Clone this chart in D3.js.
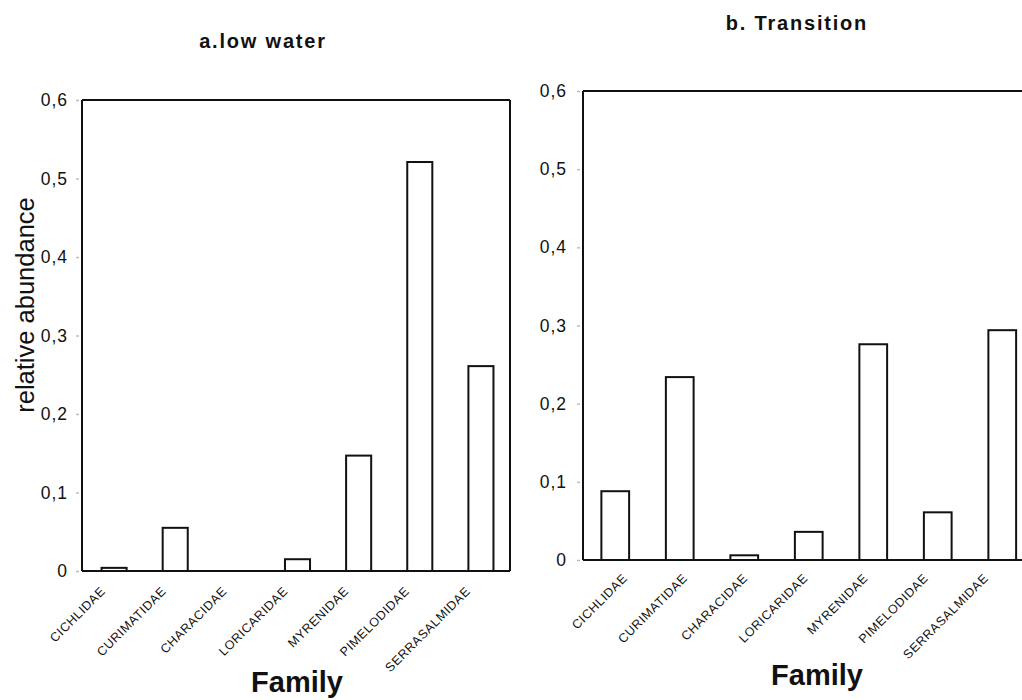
<!DOCTYPE html>
<html>
<head>
<meta charset="utf-8">
<script src="https://cdn.jsdelivr.net/npm/d3@7"></script>
<style>
  html, body { margin: 0; padding: 0; background: #fff; }
  svg { display: block; font-family: "Liberation Sans", Arial, sans-serif; }
</style>
</head>
<body>
<svg id="chart" width="1022" height="700"></svg>
<script>
// Fish families sampled
const categories = ["CICHLIDAE", "CURIMATIDAE", "CHARACIDAE", "LORICARIDAE", "MYRENIDAE", "PIMELODIDAE", "SERRASALMIDAE"];

// Relative abundance per family, low-water period
const lowWater = [0.004, 0.055, 0, 0.015, 0.147, 0.521, 0.261];

// Relative abundance per family, transition period
const transition = [0.088, 0.234, 0.006, 0.036, 0.276, 0.061, 0.294];

// Y axis ticks and their printed labels (decimal comma)
const yTicks = [0, 0.1, 0.2, 0.3, 0.4, 0.5, 0.6];
const yTickLabels = ["0", "0,1", "0,2", "0,3", "0,4", "0,5", "0,6"];

const panelTitles = ["a.low water", "b. Transition"];
const xTitle = "Family";
const yTitle = "relative abundance";

const svg = d3.select("#chart");
svg.append("rect").attr("width", 1022).attr("height", 700).attr("fill", "#fff");

function drawPanel(values, cfg) {
  const g = svg.append("g");

  const x = d3.scaleBand().domain(categories).range([cfg.left, cfg.right]).padding(0);
  const y = d3.scaleLinear().domain([0, 0.6]).range([cfg.bottom, cfg.top]);
  // label anchor positions along the baseline
  const xl = d3.scalePoint().domain(categories).range(cfg.labelRange);

  const barW = x.bandwidth() * cfg.barFrac;

  // bars
  g.selectAll("rect.bar")
    .data(values.map((v, i) => ({ cat: categories[i], v })))
    .join("rect")
    .attr("class", "bar")
    .attr("x", d => x(d.cat) + x.bandwidth() / 2 - barW / 2 + cfg.barShift)
    .attr("y", d => y(d.v))
    .attr("width", barW)
    .attr("height", d => y(0) - y(d.v))
    .attr("fill", "#fff")
    .attr("stroke", "#111")
    .attr("stroke-width", 2);

  // y axis labels and faint tick marks
  const yAxis = d3.axisLeft(y)
    .tickValues(yTicks)
    .tickFormat((d, i) => yTickLabels[i])
    .tickSize(6)
    .tickPadding(cfg.tickPad);
  const ya = g.append("g").attr("transform", `translate(${cfg.left},0)`).call(yAxis);
  ya.select(".domain").remove();
  ya.selectAll(".tick line").attr("x1", -3).attr("stroke", "#bbb").attr("stroke-width", 1.5);
  ya.selectAll(".tick text")
    .attr("font-size", 17.5)
    .attr("letter-spacing", 1)
    .attr("fill", "#111")
    .attr("font-family", "'Liberation Sans', Arial, sans-serif");

  // frame: left axis, top, baseline, optional right side
  const frame = g.append("g").attr("stroke", "#111").attr("stroke-width", 2).attr("fill", "none");
  frame.append("line").attr("x1", cfg.left).attr("x2", cfg.left).attr("y1", cfg.top).attr("y2", cfg.bottom);
  frame.append("line").attr("x1", cfg.left).attr("x2", cfg.right).attr("y1", cfg.top).attr("y2", cfg.top);
  frame.append("line").attr("x1", cfg.left).attr("x2", cfg.right).attr("y1", cfg.bottom).attr("y2", cfg.bottom);
  if (cfg.rightBorder) {
    frame.append("line").attr("x1", cfg.right).attr("x2", cfg.right).attr("y1", cfg.top).attr("y2", cfg.bottom);
  }

  // rotated family names
  g.selectAll("text.cat")
    .data(categories)
    .join("text")
    .attr("class", "cat")
    .attr("transform", d => `translate(${xl(d)},${cfg.bottom + cfg.labelDy}) rotate(-45)`)
    .attr("text-anchor", "end")
    .attr("font-size", 12.5)
    .attr("letter-spacing", 0.6)
    .attr("fill", "#111")
    .text(d => d);

  // panel title
  g.append("text")
    .attr("x", cfg.titleX).attr("y", cfg.titleY)
    .attr("text-anchor", "middle")
    .attr("font-size", 20).attr("font-weight", "bold")
    .attr("letter-spacing", 1.8)
    .attr("fill", "#111")
    .text(cfg.title);

  // x axis title
  g.append("text")
    .attr("x", cfg.familyX).attr("y", cfg.familyY)
    .attr("text-anchor", "middle")
    .attr("font-size", 29).attr("font-weight", "bold")
    .attr("fill", "#111")
    .text(xTitle);
}

drawPanel(lowWater, {
  left: 82, right: 510, top: 100, bottom: 571,
  barFrac: 0.41, barShift: 1.5,
  tickPad: 8,
  labelRange: [106, 471], labelDy: 21,
  rightBorder: true,
  title: panelTitles[0], titleX: 263, titleY: 48,
  familyX: 297, familyY: 692
});

drawPanel(transition, {
  left: 583, right: 1034.5, top: 91, bottom: 560,
  barFrac: 0.43, barShift: 0,
  tickPad: 10,
  labelRange: [628, 989], labelDy: 19,
  rightBorder: false,
  title: panelTitles[1], titleX: 797, titleY: 30,
  familyX: 817, familyY: 685
});

// shared y axis title
svg.append("text")
  .attr("transform", "translate(34,305) rotate(-90)")
  .attr("text-anchor", "middle")
  .attr("font-size", 25.5)
  .attr("fill", "#111")
  .text(yTitle);
</script>
</body>
</html>
